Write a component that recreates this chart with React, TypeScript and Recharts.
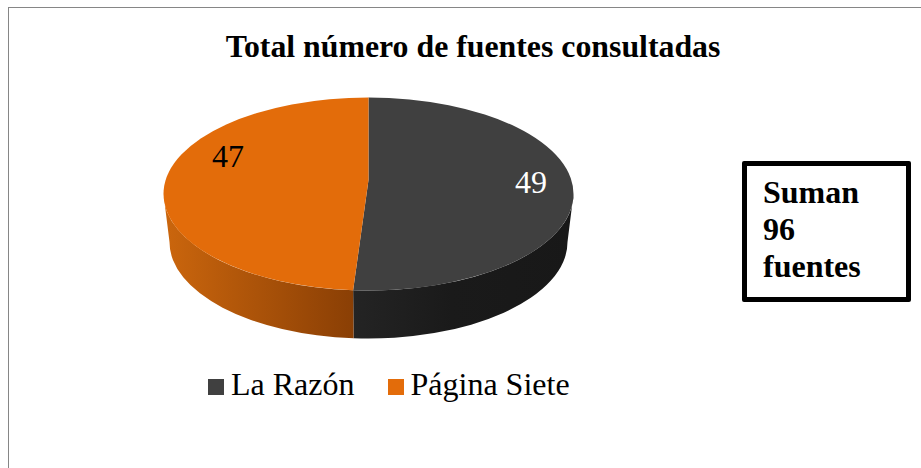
import React from 'react';
import { PieChart, Pie, Cell, Legend } from 'recharts';

const SOURCES = ['La Razón', 'Página Siete'];
const COUNTS = [49, 47];
const TOP_COLORS = ['#404040', '#e36c0a'];
const SIDE_GRADIENTS = ['sideDark', 'sideOrange'];
const LABEL_COLORS = ['#ffffff', '#000000'];
const LABEL_POS = [[531, 193], [228, 167]];
const BOX_LINES = ['Suman', '96', 'fuentes'];
const TITLE = 'Total número de fuentes consultadas';

const FONT = '"Liberation Serif", "Times New Roman", serif';
const SQUASH = 96.5 / 205;
const DEPTH = { dy: 48, inset: 6 };
const APEX_LIFT = 14;

const data = SOURCES.map((name, i) => ({ name, value: COUNTS[i] }));

const RAD = Math.PI / 180;

// mild perspective: front of the disc looks wider, so angles near the bottom spread out a bit
const view = (a: number) => a - 8.4 * Math.cos(a * RAD) * Math.min(0, Math.sin(a * RAD));

// pie is flat in recharts, so squash each sector into an ellipse and add a wall below it
const Slice3D = (props: any) => {
  const { cx, cy, outerRadius: r, startAngle, endAngle, fill, index } = props;
  const ry = r * SQUASH;
  const pt = (a: number, rx = r, y0 = cy, h = ry) => [cx + rx * Math.cos(view(a) * RAD), y0 - h * Math.sin(view(a) * RAD)];
  const [sx, sy] = pt(startAngle);
  const [ex, ey] = pt(endAngle);
  const large = Math.abs(endAngle - startAngle) > 180 ? 1 : 0;
  const top = `M${cx},${cy - APEX_LIFT} L${sx},${sy} A${r},${ry} 0 ${large} 1 ${ex},${ey} Z`;

  const from = Math.min(startAngle, 0);
  const to = Math.max(endAngle, -180);
  const bx = r - DEPTH.inset;
  const by = cy + DEPTH.dy;
  const [ax1, ay1] = pt(from);
  const [ax2, ay2] = pt(to);
  const [bx2, by2] = pt(to, bx, by);
  const [bx1, by1] = pt(from, bx, by);
  const wall = `M${ax1},${ay1} A${r},${ry} 0 0 1 ${ax2},${ay2} L${bx2},${by2} A${bx},${ry} 0 0 0 ${bx1},${by1} Z`;

  return (
    <g>
      <path d={wall} fill={`url(#${SIDE_GRADIENTS[index]})`} />
      <path d={top} fill={fill} />
    </g>
  );
};

const renderLabel = (props: any) => {
  const { index, value } = props;
  const [x, y] = LABEL_POS[index];
  return (
    <text x={x} y={y} textAnchor="middle" fontFamily={FONT} fontSize={32} fill={LABEL_COLORS[index]}>
      {value}
    </text>
  );
};

const renderLegend = (props: any) => (
  <div style={{ display: 'flex', fontFamily: FONT, fontSize: 32, lineHeight: '36px', color: '#000' }}>
    {props.payload.map((p: any, i: number) => (
      <div key={i} style={{ display: 'flex', alignItems: 'center', marginRight: 33 }}>
        <span style={{ width: 16, height: 16, background: p.color, marginRight: 7, display: 'block', position: 'relative', top: 3 }} />
        <span style={{ whiteSpace: 'nowrap' }}>{p.value}</span>
      </div>
    ))}
  </div>
);

export default function App() {
  return (
    <div style={{ position: 'absolute', left: 0, top: 0, width: 921, height: 468, overflow: 'hidden', background: '#fff' }}>
      <div style={{ position: 'absolute', left: 8, top: 7, width: 1000, height: 600, border: '1.5px solid #868686' }} />
      <PieChart width={921} height={468} margin={{ top: 0, right: 0, bottom: 0, left: 0 }} style={{ position: 'absolute', left: 0, top: 0 }}>
        <defs>
          <linearGradient id="sideDark" gradientUnits="userSpaceOnUse" x1={353} x2={573} y1={0} y2={0}>
            <stop offset="0" stopColor="#242424" />
            <stop offset="0.45" stopColor="#1a1a1a" />
            <stop offset="1" stopColor="#181818" />
          </linearGradient>
          <linearGradient id="sideOrange" gradientUnits="userSpaceOnUse" x1={164} x2={353} y1={0} y2={0}>
            <stop offset="0" stopColor="#cb660d" />
            <stop offset="1" stopColor="#8a3f05" />
          </linearGradient>
        </defs>
        <text x={473} y={57} textAnchor="middle" fontFamily={FONT} fontWeight="bold" fontSize={31.8} fill="#000">
          {TITLE}
        </text>
        <Pie
          data={data}
          dataKey="value"
          nameKey="name"
          cx={368.5}
          cy={194}
          outerRadius={205}
          startAngle={90}
          endAngle={-270}
          stroke="none"
          shape={Slice3D}
          label={renderLabel}
          labelLine={false}
          isAnimationActive={false}
        >
          {data.map((_, i) => <Cell key={i} fill={TOP_COLORS[i]} />)}
        </Pie>
        <Legend
          content={renderLegend}
          wrapperStyle={{ position: 'absolute', left: 208, top: 366, width: 420, height: 40 }}
        />
      </PieChart>
      <div style={{
        position: 'absolute', left: 742, top: 161, width: 169, height: 141, boxSizing: 'border-box',
        border: '5px solid #000', borderRadius: 2, padding: '8px 0 0 16px', background: '#fff',
        fontFamily: FONT, fontWeight: 'bold', fontSize: 32, lineHeight: '37px', color: '#000',
      }}>
        {BOX_LINES.map(l => <div key={l}>{l}</div>)}
      </div>
    </div>
  );
}
